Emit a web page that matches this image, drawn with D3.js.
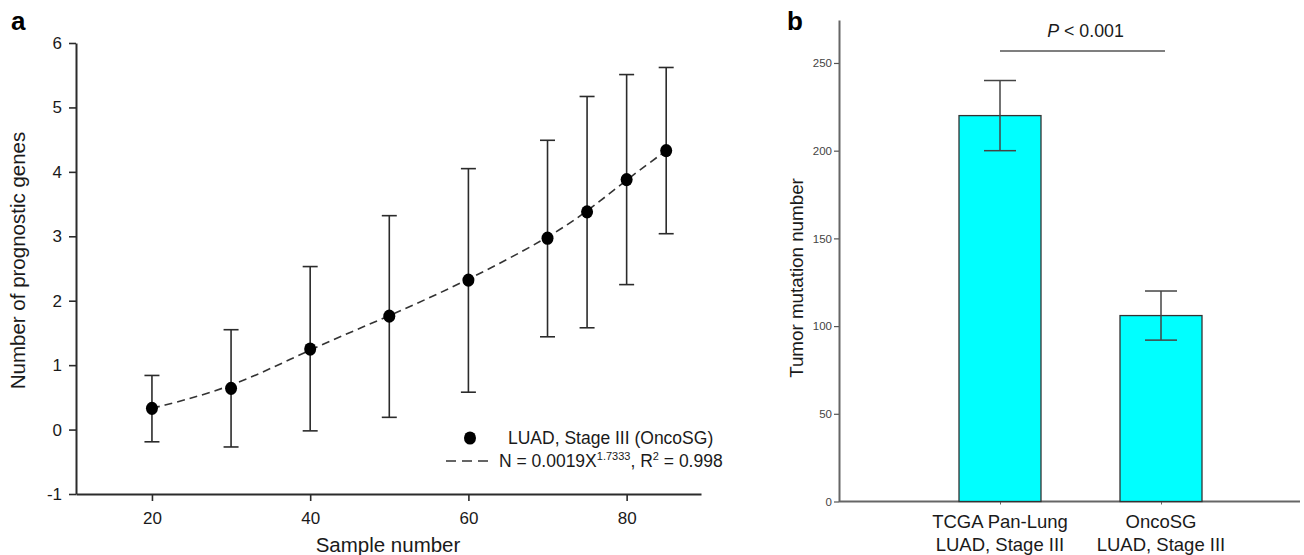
<!DOCTYPE html>
<html>
<head>
<meta charset="utf-8">
<script src="https://cdn.jsdelivr.net/npm/d3@7"></script>
<style>
  html, body { margin: 0; padding: 0; background: #fff; }
  svg { display: block; font-family: "Liberation Sans", Arial, sans-serif; }
</style>
</head>
<body>
<svg id="chart" width="1304" height="555"></svg>
<script>
// ---- Panel a data ----
const sampleNumbers = [20, 30, 40, 50, 60, 70, 75, 80, 85];
const meanGenes     = [0.33, 0.64, 1.25, 1.76, 2.32, 2.97, 3.38, 3.88, 4.33];
const upperGenes    = [0.84, 1.55, 2.53, 3.32, 4.05, 4.49, 5.17, 5.51, 5.62];
const lowerGenes    = [-0.19, -0.27, -0.02, 0.19, 0.58, 1.44, 1.58, 2.25, 3.04];
const aXTicks = [20, 40, 60, 80];
const aYTicks = [-1, 0, 1, 2, 3, 4, 5, 6];

// ---- Panel b data ----
const bCategories = [["TCGA Pan-Lung", "LUAD, Stage III"], ["OncoSG", "LUAD, Stage III"]];
const bValues = [220, 106];
const bUpper  = [240, 120];
const bLower  = [200, 92];
const bYTicks = [0, 50, 100, 150, 200, 250];

const svg = d3.select("#chart");
const dark = "#2b2b2b";

// ================= Panel a =================
const ga = svg.append("g");
const xA = d3.scaleLinear().domain([10.4, 89.4]).range([76, 701]);
const yA = d3.scaleLinear().domain([-1, 6]).range([494, 43]);

const xAxisA = ga.append("g").attr("transform", `translate(0,${yA(-1)})`)
  .call(d3.axisBottom(xA).tickValues(aXTicks).tickSize(7).tickSizeOuter(0).tickPadding(8).tickFormat(d => String(d)));
const yAxisA = ga.append("g").attr("transform", `translate(${xA.range()[0]},0)`)
  .call(d3.axisLeft(yA).tickValues(aYTicks).tickSize(7).tickSizeOuter(0).tickPadding(7).tickFormat(d => String(d)));
[xAxisA, yAxisA].forEach(ax => {
  ax.select(".domain").attr("stroke", dark).attr("stroke-width", 2);
  ax.selectAll(".tick line").attr("stroke", dark).attr("stroke-width", 1.6);
  ax.selectAll(".tick text").attr("fill", "#1a1a1a").style("font-size", "17px")
    .style("font-family", "Liberation Sans, Arial, sans-serif");
});
xAxisA.selectAll(".tick text").attr("dy", "0.9em");

ga.append("text").attr("x", 388).attr("y", 552)
  .attr("text-anchor", "middle").style("font-size", "20.5px").attr("fill", "#1a1a1a")
  .text("Sample number");
ga.append("text").attr("transform", `translate(25,${(yA(-1) + yA(6)) / 2 - 8}) rotate(-90)`)
  .attr("text-anchor", "middle").style("font-size", "20.5px").attr("fill", "#1a1a1a")
  .text("Number of prognostic genes");

const ptsA = sampleNumbers.map((s, i) => ({ x: s, y: meanGenes[i], hi: upperGenes[i], lo: lowerGenes[i] }));

// error bars
const capA = 7.5;
const eb = ga.append("g").attr("stroke", dark).attr("stroke-width", 1.6).attr("fill", "none");
ptsA.forEach(d => {
  eb.append("line").attr("x1", xA(d.x)).attr("x2", xA(d.x)).attr("y1", yA(d.hi)).attr("y2", yA(d.lo));
  eb.append("line").attr("x1", xA(d.x) - capA).attr("x2", xA(d.x) + capA).attr("y1", yA(d.hi)).attr("y2", yA(d.hi));
  eb.append("line").attr("x1", xA(d.x) - capA).attr("x2", xA(d.x) + capA).attr("y1", yA(d.lo)).attr("y2", yA(d.lo));
});

// dashed fit line through the means (smoothed)
const line = d3.line().x(d => xA(d.x)).y(d => yA(d.y)).curve(d3.curveBasis);
ga.append("path").datum(ptsA).attr("d", line).attr("fill", "none")
  .attr("stroke", "#333").attr("stroke-width", 1.6).attr("stroke-dasharray", "8,5");

// points
ga.append("g").selectAll("ellipse").data(ptsA).join("ellipse")
  .attr("cx", d => xA(d.x)).attr("cy", d => yA(d.y)).attr("rx", 6).attr("ry", 6.6).attr("fill", "#000");

// legend
const lg = ga.append("g");
lg.append("ellipse").attr("cx", 470).attr("cy", 438).attr("rx", 6).attr("ry", 6.6).attr("fill", "#000");
lg.append("text").attr("x", 508).attr("y", 444).style("font-size", "17.5px").attr("fill", "#1a1a1a")
  .text("LUAD, Stage III (OncoSG)");
lg.append("line").attr("x1", 446).attr("x2", 493).attr("y1", 461).attr("y2", 461)
  .attr("stroke", "#333").attr("stroke-width", 1.6).attr("stroke-dasharray", "10,6");
const lt = lg.append("text").attr("x", 499).attr("y", 467).style("font-size", "17.5px").attr("fill", "#1a1a1a");
lt.append("tspan").text("N = 0.0019X");
lt.append("tspan").attr("dy", "-7").style("font-size", "11px").text("1.7333");
lt.append("tspan").attr("dy", "7").text(", R");
lt.append("tspan").attr("dy", "-7").style("font-size", "11px").text("2");
lt.append("tspan").attr("dy", "7").text(" = 0.998");

// panel label
svg.append("text").attr("x", 11).attr("y", 30).style("font-size", "26px").style("font-weight", "bold").text("a");

// ================= Panel b =================
const gb = svg.append("g");
const catKeys = bCategories.map(c => c.join(" "));
const xB = d3.scalePoint().domain(catKeys).range([839, 1322]).padding(1);
const yB = d3.scaleLinear().domain([0, 274.5]).range([501.5, 20]);
const barW = 82;

// x-axis baseline
const xAxisB = gb.append("g").attr("transform", `translate(0,${yB(0)})`)
  .call(d3.axisBottom(xB).tickSize(3).tickSizeOuter(0).tickFormat(""));
xAxisB.select(".domain").attr("d", `M${xB.range()[0]},0H1300`).attr("stroke", "#666").attr("stroke-width", 2);
xAxisB.selectAll(".tick line").attr("stroke", "#666").attr("stroke-width", 1);

// bars
gb.append("g").selectAll("rect").data(bValues).join("rect")
  .attr("x", (d, i) => xB(catKeys[i]) - barW / 2).attr("width", barW)
  .attr("y", d => yB(d)).attr("height", d => yB(0) - yB(d))
  .attr("fill", "#00FFFF").attr("stroke", "#333").attr("stroke-width", 1.3);

const yAxisB = gb.append("g").attr("transform", `translate(839,0)`)
  .call(d3.axisLeft(yB).tickValues(bYTicks).tickSize(5).tickSizeOuter(0).tickPadding(2));
yAxisB.select(".domain").attr("stroke", "#666").attr("stroke-width", 2);
yAxisB.selectAll(".tick line").attr("stroke", "#555").attr("stroke-width", 1.2);
yAxisB.selectAll(".tick text").attr("fill", "#444").style("font-size", "11.5px")
  .style("font-family", "Liberation Sans, Arial, sans-serif");

// error bars b
const capB = 16;
const ebb = gb.append("g").attr("stroke", "#444").attr("stroke-width", 1.5);
bValues.forEach((v, i) => {
  const cx = xB(catKeys[i]);
  ebb.append("line").attr("x1", cx).attr("x2", cx).attr("y1", yB(bUpper[i])).attr("y2", yB(bLower[i]));
  ebb.append("line").attr("x1", cx - capB).attr("x2", cx + capB).attr("y1", yB(bUpper[i])).attr("y2", yB(bUpper[i]));
  ebb.append("line").attr("x1", cx - capB).attr("x2", cx + capB).attr("y1", yB(bLower[i])).attr("y2", yB(bLower[i]));
});

// category labels
bCategories.forEach((c, i) => {
  c.forEach((t, j) => {
    gb.append("text").attr("x", xB(catKeys[i])).attr("y", 528 + j * 23)
      .attr("text-anchor", "middle").style("font-size", "18.5px").attr("fill", "#1a1a1a").text(t);
  });
});

// significance
gb.append("line").attr("x1", xB(catKeys[0])).attr("x2", xB(catKeys[1]) + 4)
  .attr("y1", 51).attr("y2", 51).attr("stroke", "#555").attr("stroke-width", 1.6);
const pt = gb.append("text").attr("x", (xB(catKeys[0]) + xB(catKeys[1])) / 2 + 5).attr("y", 37)
  .attr("text-anchor", "middle").style("font-size", "17.8px").attr("fill", "#1a1a1a");
pt.append("tspan").style("font-style", "italic").text("P");
pt.append("tspan").text(" < 0.001");

gb.append("text").attr("transform", `translate(803,278) rotate(-90)`)
  .attr("text-anchor", "middle").style("font-size", "18.8px").attr("fill", "#1a1a1a")
  .text("Tumor mutation number");

svg.append("text").attr("x", 787).attr("y", 30).style("font-size", "26px").style("font-weight", "bold").text("b");
</script>
</body>
</html>
